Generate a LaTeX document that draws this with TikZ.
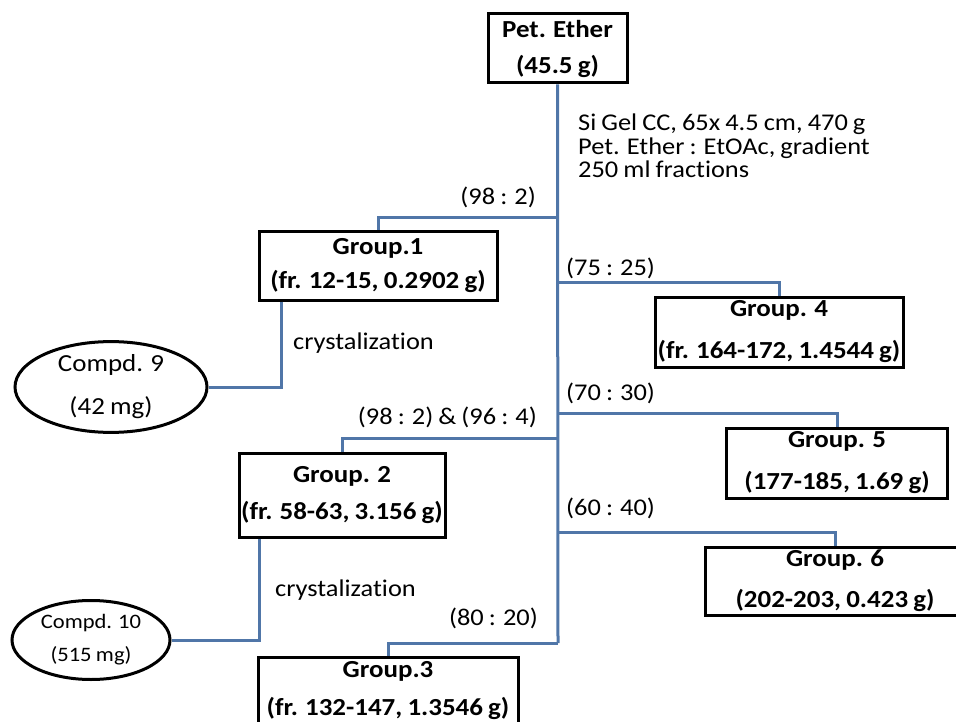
\documentclass[tikz,border=0pt]{standalone}
\usepackage{fontspec}
\setmainfont{Carlito}[FakeStretch=1.1,Ligatures=NoCommon,WordSpace=0.85]
\usetikzlibrary{shapes.geometric}
\definecolor{conncol}{RGB}{80,118,168}
\begin{document}
\begin{tikzpicture}[x=1pt,y=-1pt,
  grp/.style={draw=black,line width=3pt,inner sep=0pt,align=center,font={\fontsize{24.5}{#1}\selectfont\bfseries}},
  cmp/.style={ellipse,draw=black,line width=3pt,inner sep=0pt,align=center},
  lbl/.style={inner sep=0pt,font=\fontsize{24}{23.5}\selectfont},
  wire/.style={draw=conncol,line width=3pt}]
\useasboundingbox (0,0) rectangle (956,722);
\clip (0,0) rectangle (956,722);

% boxes
\node[grp=36,minimum width=139pt,minimum height=69pt] (pet) at (557.5,48.5) {Pet. Ether\\(45.5 g)};
\node[grp=34,minimum width=238pt,minimum height=68pt] (g1) at (378,266) {Group.1\\(fr. 12-15, 0.2902 g)};
\node[grp=42,minimum width=248pt,minimum height=70pt] (g4) at (779,332) {Group. 4\\(fr. 164-172, 1.4544 g)};
\node[grp=37,minimum width=206pt,minimum height=84pt] (g2) at (342,495) {Group. 2\\(fr. 58-63, 3.156 g)};
\node[grp=42,minimum width=221pt,minimum height=70pt] (g5) at (837,463) {Group. 5\\(177-185, 1.69 g)};
\node[grp=41,minimum width=260pt,minimum height=68pt] (g6) at (835,581) {Group. 6\\(202-203, 0.423 g)};
\node[grp=38,minimum width=260pt,minimum height=68pt] (g3) at (388,691) {Group.3\\(fr. 132-147, 1.3546 g)};

% compounds
\node[cmp,minimum width=192pt,minimum height=74pt,font=\fontsize{24.5}{43}\selectfont] (c9) at (111,387) {Compd. 9\\(42 mg)};
\node[cmp,minimum width=158pt,minimum height=79pt,font=\fontsize{20.5}{33}\selectfont] (c10) at (91,640) {Compd. 10\\(515 mg)};

% junctions on the main column
\coordinate (j1) at (558,218);
\coordinate (j4) at (558,282);
\coordinate (j5) at (558,413);
\coordinate (j2) at (558,438);
\coordinate (j6) at (558,532);
\coordinate (j3) at (558,643);

\draw[wire] (pet.south) -- (j3);
\draw[wire] (j1) -| (g1.north);
\draw[wire] (j4) -| (g4.north);
\draw[wire] (j5) -| (g5.north);
\draw[wire] (j2) -| (g2.north);
\draw[wire] (j6) -| (g6.north);
\draw[wire] (j3) -| (g3.north);
\draw[wire] ([xshift=24pt]g1.south west) |- (c9.east);
\draw[wire] ([xshift=22pt]g2.south west) |- (c10.east);

% labels
\node[lbl,anchor=west,align=left] (info) at (578,146) {Si Gel CC, 65x 4.5 cm, 470 g\\Pet. Ether : EtOAc, gradient\\250 ml fractions};
\node[lbl,anchor=east] (l1) at (536,197) {(98 : 2)};
\node[lbl,anchor=west] (l4) at (566,268) {(75 : 25)};
\node[lbl,anchor=west] (l5) at (566,393) {(70 : 30)};
\node[lbl,anchor=east] (l2) at (537,417) {(98 : 2) \& (96 : 4)};
\node[lbl,anchor=west] (l6) at (566,508) {(60 : 40)};
\node[lbl,anchor=east] (l3) at (538,618) {(80 : 20)};
\node[lbl,anchor=west] (cr1) at (293,343) {crystalization};
\node[lbl,anchor=west] (cr2) at (275,590) {crystalization};
\end{tikzpicture}
\end{document}
